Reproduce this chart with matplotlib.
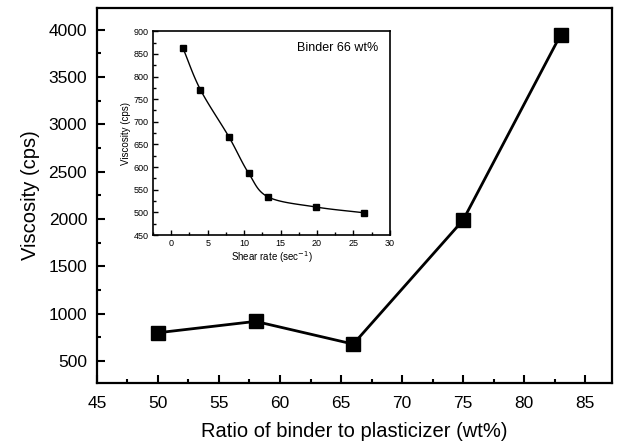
import numpy as np
import matplotlib
matplotlib.use("Agg")
import matplotlib.pyplot as plt
from matplotlib.ticker import MultipleLocator

plt.rcParams['font.family'] = ['Liberation Sans', 'DejaVu Sans']

# main plot: viscosity vs binder/plasticizer ratio
ratio = [50, 58, 66, 75, 83]
viscosity = [800, 920, 680, 1990, 3950]

# inset: viscosity vs shear rate at binder 66 wt%
shear = [1.6, 4.0, 7.9, 10.6, 13.3, 19.8, 26.5]
visc_shear = [863, 771, 667, 587, 534, 512, 499]


def smooth(x, y, n=20):
    # catmull-rom through the measured points, just for drawing
    x = np.asarray(x, float)
    y = np.asarray(y, float)
    px = np.concatenate([[2 * x[0] - x[1]], x, [2 * x[-1] - x[-2]]])
    py = np.concatenate([[2 * y[0] - y[1]], y, [2 * y[-1] - y[-2]]])
    t = np.linspace(0, 1, n)[:, None]
    xs, ys = [], []
    for i in range(1, len(px) - 2):
        for p, out in ((px, xs), (py, ys)):
            p0, p1, p2, p3 = p[i - 1], p[i], p[i + 1], p[i + 2]
            seg = 0.5 * (2 * p1 + (-p0 + p2) * t + (2 * p0 - 5 * p1 + 4 * p2 - p3) * t ** 2
                         + (-p0 + 3 * p1 - 3 * p2 + p3) * t ** 3)
            out.append(seg.ravel())
    return np.concatenate(xs), np.concatenate(ys)


fig = plt.figure(figsize=(6.17, 4.46), dpi=100)
ax = fig.add_axes([0.157, 0.141, 0.835, 0.841])
ax.plot(ratio, viscosity, '-', color='black', lw=2, marker='s', ms=9.5)
ax.set_xlim(45, 87.2)
ax.set_ylim(268, 4230)
ax.xaxis.set_major_locator(MultipleLocator(5))
ax.xaxis.set_minor_locator(MultipleLocator(2.5))
ax.yaxis.set_major_locator(MultipleLocator(500))
ax.yaxis.set_minor_locator(MultipleLocator(250))
ax.tick_params(which='both', direction='in', width=1.5, labelsize=12.5)
ax.tick_params(which='major', length=6, pad=7)
ax.tick_params(axis='x', which='major', pad=9)
ax.tick_params(which='minor', length=3)
for s in ax.spines.values():
    s.set_linewidth(1.6)
ax.set_xlabel('Ratio of binder to plasticizer (wt%)', fontsize=14.5, labelpad=8)
ax.set_ylabel('Viscosity (cps)', fontsize=14.5, labelpad=6)

ins = fig.add_axes([0.248, 0.473, 0.384, 0.457])
sx, sy = smooth(shear, visc_shear)
ins.plot(sx, sy, '-', color='black', lw=1)
ins.plot(shear, visc_shear, 's', color='black', ms=4)
ins.set_xlim(-2.5, 30)
ins.set_ylim(450, 900)
ins.xaxis.set_major_locator(MultipleLocator(5))
ins.xaxis.set_minor_locator(MultipleLocator(2.5))
ins.yaxis.set_major_locator(MultipleLocator(50))
ins.yaxis.set_minor_locator(MultipleLocator(25))
ins.tick_params(which='both', direction='in', width=1, labelsize=6.5)
ins.tick_params(which='major', length=3.5, pad=3)
ins.tick_params(which='minor', length=2)
for s in ins.spines.values():
    s.set_linewidth(1.2)
ins.set_xlabel('Shear rate (sec$^{-1}$)', fontsize=7, labelpad=1)
ins.set_ylabel('Viscosity (cps)', fontsize=7, labelpad=2)
ins.text(0.95, 0.92, 'Binder 66 wt%', transform=ins.transAxes, ha='right', va='center', fontsize=9)

fig.savefig('out.png', dpi=100)
